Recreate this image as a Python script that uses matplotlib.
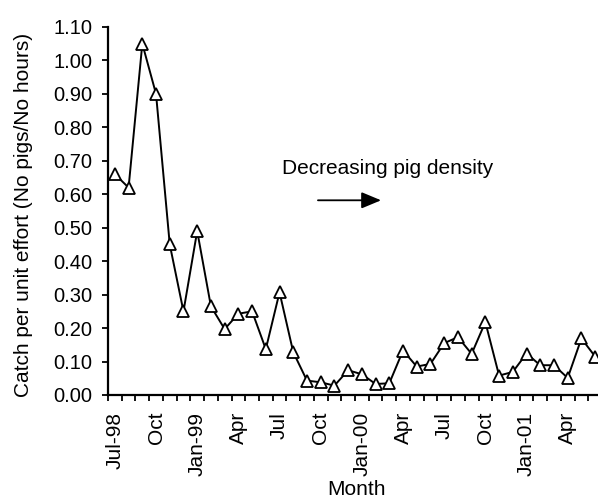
import numpy as np
import matplotlib
matplotlib.use('Agg')
import matplotlib.pyplot as plt

plt.rcParams['font.family'] = ['Liberation Sans', 'DejaVu Sans']

# monthly catch per unit effort, Jul-98 .. Jun-01
months = ['Jul-98', 'Aug', 'Sep', 'Oct', 'Nov', 'Dec',
          'Jan-99', 'Feb', 'Mar', 'Apr', 'May', 'Jun',
          'Jul', 'Aug', 'Sep', 'Oct', 'Nov', 'Dec',
          'Jan-00', 'Feb', 'Mar', 'Apr', 'May', 'Jun',
          'Jul', 'Aug', 'Sep', 'Oct', 'Nov', 'Dec',
          'Jan-01', 'Feb', 'Mar', 'Apr', 'May', 'Jun']
cpue = [0.66, 0.62, 1.05, 0.90, 0.45, 0.25,
        0.49, 0.265, 0.197, 0.243, 0.25, 0.137,
        0.307, 0.128, 0.043, 0.038, 0.028, 0.074,
        0.062, 0.033, 0.035, 0.133, 0.085, 0.093,
        0.155, 0.173, 0.123, 0.218, 0.058, 0.069,
        0.124, 0.089, 0.089, 0.051, 0.169, 0.115]
yticks = [0.0, 0.1, 0.2, 0.3, 0.4, 0.5, 0.6, 0.7, 0.8, 0.9, 1.0, 1.1]

fig = plt.figure(figsize=(5.98, 5.0), dpi=100)
ax = fig.add_axes([108/598, 105/500, 494/598, 368/500])

x = np.arange(len(cpue))
ax.plot(x, cpue, color='black', lw=1.4, marker='^', ms=8,
        mfc='white', mec='black', mew=1.3, clip_on=False, zorder=3)

ax.set_xlim(-0.5, len(cpue) - 0.5)
ax.set_ylim(0, 1.1)

# labels every 3rd month, ticks between every category
lab_idx = x[::3]
ax.set_xticks(lab_idx)
ax.set_xticklabels([months[i] for i in lab_idx], rotation=90, fontsize=15)
ax.set_xticks(np.arange(len(cpue) + 1) - 0.5, minor=True)
ax.tick_params(axis='x', which='major', length=0, pad=12)
ax.tick_params(axis='x', which='minor', length=4.5, width=1.3, direction='out')

ax.set_yticks(yticks)
ax.set_yticklabels(['%.2f' % v for v in yticks], fontsize=14.5)
ax.tick_params(axis='y', length=4, width=1.3, direction='out', pad=7)

for s in ['top', 'right']:
    ax.spines[s].set_visible(False)
for s in ['left', 'bottom']:
    ax.spines[s].set_linewidth(1.6)

ax.set_ylabel('Catch per unit effort (No pigs/No hours)', fontsize=15)
ax.yaxis.set_label_coords(-0.152, 0.49)
ax.set_xlabel('Month', fontsize=15)
ax.xaxis.set_label_coords(0.504, -0.231)

ax.text(12.2, 0.678, 'Decreasing pig density', fontsize=15,
        ha='left', va='center')
ax.annotate('', xy=(19.4, 0.582), xytext=(14.8, 0.582),
            arrowprops=dict(arrowstyle='-|>,head_length=1.2,head_width=0.5',
                            color='black', lw=1.3, shrinkA=0, shrinkB=0))

fig.savefig('out.png', dpi=100)
